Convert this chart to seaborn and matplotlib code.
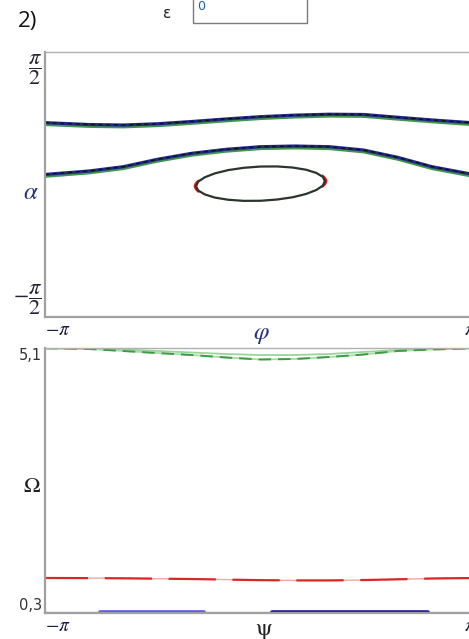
import numpy as np
import matplotlib
matplotlib.use("Agg")
import matplotlib.pyplot as plt
from matplotlib.patches import Rectangle
import matplotlib.patheffects as pe
import seaborn as sns

sns.set_style("white")
plt.rcParams["font.family"] = ["DejaVu Sans"]
plt.rcParams["mathtext.fontset"] = "stix"
plt.rcParams["lines.scale_dashes"] = False

PI = np.pi

# ---------------- data ----------------
phi = [-3.1416, -2.5, -2.0, -1.5, -1.0, -0.5, 0.0, 0.5, 1.0, 1.5, 2.0, 2.5, 3.1416]
alpha_upper = [0.733, 0.711, 0.705, 0.720, 0.747, 0.777, 0.804, 0.822, 0.833, 0.830, 0.797, 0.765, 0.729]
alpha_lower = [0.119, 0.160, 0.211, 0.299, 0.370, 0.417, 0.448, 0.456, 0.448, 0.409, 0.322, 0.211, 0.113]

ellipse_phi = [0.940, 0.908, 0.814, 0.665, 0.470, 0.243, 0.000, -0.243, -0.470, -0.665, -0.814, -0.908,
               -0.940, -0.908, -0.814, -0.665, -0.470, -0.243, 0.000, 0.243, 0.470, 0.665, 0.814, 0.908, 0.940]
ellipse_alpha = [0.040, 0.091, 0.137, 0.175, 0.201, 0.214, 0.213, 0.198, 0.171, 0.132, 0.085, 0.034,
                 -0.020, -0.071, -0.117, -0.155, -0.181, -0.194, -0.193, -0.178, -0.151, -0.112, -0.065, -0.014, 0.040]
# red ends of the ellipse (red trace sits slightly outside the black one)
ell_red_left_phi = [-0.905, -0.945, -0.960, -0.945, -0.905]
ell_red_left_alpha = [0.045, 0.012, -0.020, -0.052, -0.085]
ell_red_right_phi = [0.905, 0.945, 0.960, 0.945, 0.905]
ell_red_right_alpha = [-0.025, 0.008, 0.040, 0.072, 0.105]

psi = [-3.1416, -2.5, -2.0, -1.5, -1.0, -0.5, 0.0, 0.5, 1.0, 1.5, 2.0, 2.5, 3.1416]
omega_green_dark = [5.095, 5.082, 5.046, 5.009, 4.973, 4.928, 4.892, 4.901, 4.937, 4.982, 5.046, 5.073, 5.095]
omega_green_light = [5.095, 5.089, 5.073, 5.046, 5.018, 4.991, 4.973, 4.973, 4.991, 5.028, 5.064, 5.082, 5.095]
omega_red = [0.934, 0.932, 0.928, 0.922, 0.915, 0.905, 0.895, 0.890, 0.890, 0.897, 0.910, 0.925, 0.934]
blue_psi = [-3.1416, 3.1416]
blue_omega = [0.318, 0.318]
blue_light_psi = [-2.34, -0.82]
blue_light_omega = [0.320, 0.320]
blue_dark_psi = [0.17, 2.44]
blue_dark_omega = [0.320, 0.320]

x_ticks = [-PI, PI]
x_ticklabels = [r"$-\pi$", r"$\pi$"]
alpha_ticks = [-PI / 2, PI / 2]
alpha_ticklabels = [r"$-\dfrac{\pi}{2}$", r"$\dfrac{\pi}{2}$"]
omega_ticks = [0.3, 5.1]
omega_ticklabels = ["0,3", "5,1"]
epsilon_value = "0"

# ---------------- figure ----------------
W, H = 469, 639
fig = plt.figure(figsize=(W / 100, H / 100), dpi=100)


def box(l, t, r, b):
    return [l / W, 1 - b / H, (r - l) / W, (b - t) / H]


ax1 = fig.add_axes(box(45, 52, 476, 317))
ax2 = fig.add_axes(box(45, 348, 476, 613))


def curve(ax, x, y, **kw):
    sns.lineplot(x=x, y=y, sort=False, estimator=None, ax=ax, **kw)


navy = "#1f2a8a"
green_shadow = [pe.SimpleLineShadow(offset=(0, -1.3), shadow_color="#2e8b3a", alpha=0.9, rho=1), pe.Normal()]

# top panel
for ys in (alpha_upper, alpha_lower):
    curve(ax1, phi, ys, color=navy, lw=2.3, path_effects=green_shadow)
    curve(ax1, phi, ys, color="#111111", lw=1.0, ls=(0, (3, 2.5)))

curve(ax1, ell_red_left_phi, ell_red_left_alpha, color="#e01515", lw=1.6)
curve(ax1, ell_red_right_phi, ell_red_right_alpha, color="#e01515", lw=1.6)
curve(ax1, ellipse_phi, ellipse_alpha, color="#2a352c", lw=1.6)

ax1.set_xlim(-PI, PI)
ax1.set_ylim(-PI / 2, PI / 2)

# bottom panel
curve(ax2, psi, omega_green_light, color="#9ad49a", lw=1.3)
curve(ax2, psi, omega_green_dark, color="#a8dca8", lw=1.3)
curve(ax2, psi, omega_green_dark, color="#3f9a45", lw=1.4, ls=(0, (9, 5)))
curve(ax2, psi, omega_red, color="#f3a6a6", lw=1.0)
curve(ax2, psi, omega_red, color="#d82828", lw=1.6, ls=(3, (34, 12)))
curve(ax2, blue_psi, blue_omega, color="#b8b8f0", lw=1.0)
curve(ax2, blue_light_psi, blue_light_omega, color="#5555e0", lw=2.6)
curve(ax2, blue_dark_psi, blue_dark_omega, color="#1c1c8a", lw=2.6)

ax2.set_xlim(-PI, PI)
ax2.set_ylim(0.3, 5.1)

# axes styling
for ax in (ax1, ax2):
    ax.set_xlabel("")
    ax.set_ylabel("")
    for s in ("left", "bottom"):
        ax.spines[s].set_color("#a0a0a0")
        ax.spines[s].set_linewidth(1.6)
    ax.spines["top"].set_color("#b0b0b0")
    ax.spines["top"].set_linewidth(1.0)
    ax.spines["right"].set_visible(False)
    ax.tick_params(length=0, pad=2)
    ax.set_xticks(x_ticks)
    ax.set_xticklabels(x_ticklabels, fontsize=14, color="#1a1a40")
    xl = ax.get_xticklabels()
    xl[0].set_ha("left")
    xl[1].set_ha("right")

ax1.set_yticks(alpha_ticks)
ax1.set_yticklabels(alpha_ticklabels, fontsize=16, color="#222233")
yl = ax1.get_yticklabels()
yl[0].set_va("bottom")
yl[1].set_va("top")

ax2.set_yticks(omega_ticks)
ax2.set_yticklabels(omega_ticklabels, fontsize=10.5, color="#333333")
yl = ax2.get_yticklabels()
yl[0].set_va("bottom")
yl[1].set_va("top")

# axis labels
ax1.text(-0.032, 0.472, r"$\alpha$", transform=ax1.transAxes, ha="center", va="center",
         fontsize=18, color="#25307a")
ax1.text(0.503, -0.018, r"$\varphi$", transform=ax1.transAxes, ha="center", va="top",
         fontsize=18, color="#25307a")
ax2.text(-0.032, 0.475, "Ω", transform=ax2.transAxes, ha="center", va="center",
         fontsize=16, color="#222222", family="STIXGeneral")
ax2.text(0.507, -0.02, "ψ", transform=ax2.transAxes, ha="center", va="top",
         fontsize=17, color="#222222", family="STIXGeneral")

# header
fig.text(18 / W, 1 - 21 / H, "2)", fontsize=16, ha="left", va="center", family="Open Sans", color="#111111")
fig.text(167 / W, 1 - 14 / H, "ε", fontsize=11, ha="center", va="center", color="#222222")
fig.patches.append(Rectangle((193 / W, 1 - 23 / H), 114 / W, 30 / H, transform=fig.transFigure,
                             fill=False, edgecolor="#7a7a7a", lw=1.0))
fig.text(197 / W, 1 - 7 / H, epsilon_value, fontsize=9, ha="left", va="center", color="#1f5fb0")

fig.savefig("out.png", dpi=100)
